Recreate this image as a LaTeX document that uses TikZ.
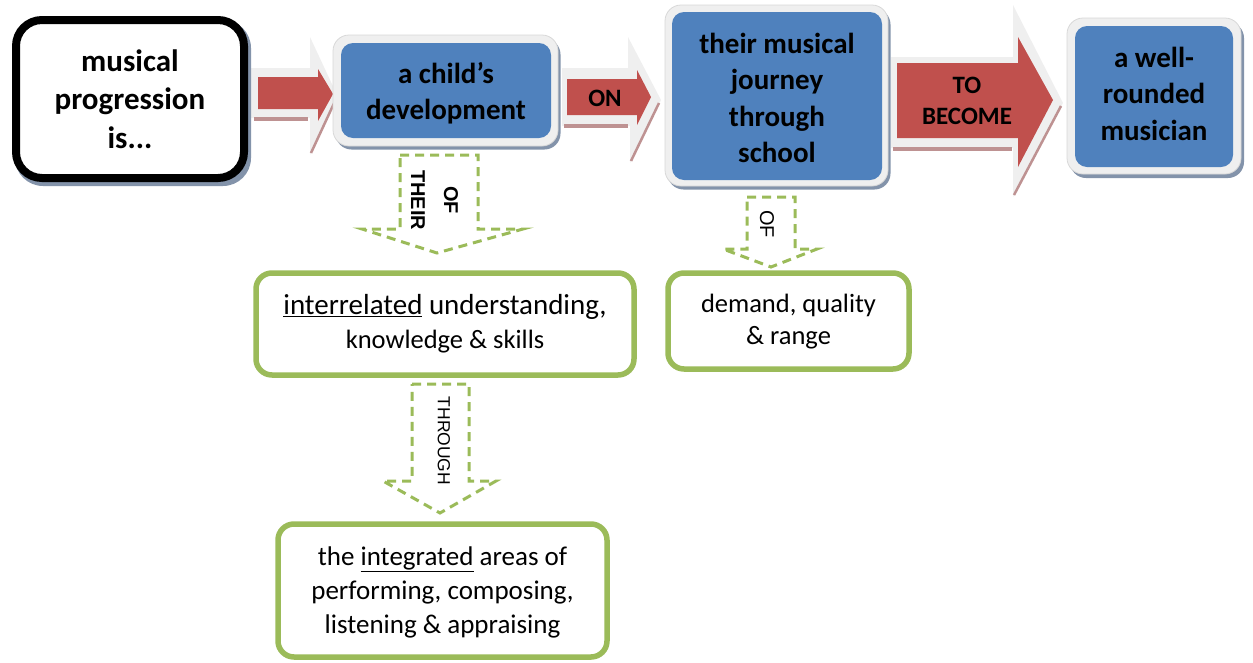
\documentclass[tikz,border=0pt]{standalone}
\usepackage{fontspec}
\setmainfont{Carlito}
\newfontfamily\arialf{Liberation Sans}
\definecolor{blueA}{HTML}{4F81BD}
\definecolor{redA}{HTML}{C0504D}
\definecolor{greenA}{HTML}{9BBB59}
\definecolor{glowC}{HTML}{EFEFEF}
\definecolor{frameC}{HTML}{D8D8D8}
\definecolor{shadowC}{HTML}{8393AA}
\definecolor{redshadow}{HTML}{BE9292}
\tikzset{
  bluetxt/.style={font=\fontsize{29}{36.5}\selectfont\bfseries, align=center, text=black},
  frame/.style={rectangle, rounded corners=16pt, fill=glowC, draw=frameC, line width=0.8pt, inner sep=0pt},
  bluebox/.style={rectangle, rounded corners=12pt, fill=blueA, inner sep=0pt},
  shadowbox/.style={rectangle, rounded corners=16pt, fill=shadowC, inner sep=0pt},
  greenbox/.style={rectangle, rounded corners=16pt, draw=greenA, line width=5.5pt, fill=white, inner sep=0pt, align=center},
  greentxt/.style={font=\fontsize{27}{34}\selectfont},
  redarrow/.style={fill=redA},
  glowarrow/.style={fill=glowC},
  redshad/.style={draw=redshadow, line width=4pt},
  dasharrow/.style={draw=greenA, line width=3pt, dash pattern=on 9pt off 6pt, line join=miter},
  arrowlbl/.style={font=\fontsize{25}{31}\selectfont\bfseries, align=center},
  dashlbl/.style={rotate=-90, inner sep=0pt},
}
\begin{document}
\begin{tikzpicture}[x=1pt,y=-1pt]
\useasboundingbox (0,0) rectangle (1253,662);

% ---- red block arrows (glow, shadow, body) ----
% arrow 1
\fill[glowarrow] (250,68) -- (310,68) -- (310,37) -- (338,97) -- (310,155) -- (310,118) -- (250,118) -- cycle;
\draw[redshad] (254,119) -- (308,119);
\draw[redshad,line width=2.5pt] (311,153) -- (336,99);
\fill[redarrow] (258,77) -- (318,77) -- (318,69) -- (333,94) -- (318,121) -- (318,109) -- (258,109) -- cycle;
% arrow 2
\fill[glowarrow] (562,68) -- (628,68) -- (628,37) -- (661,100) -- (630,163) -- (630,126) -- (562,126) -- cycle;
\draw[redshad] (564,126) -- (628,126);
\draw[redshad,line width=2.5pt] (631,161) -- (659,103);
\fill[redarrow] (567,79) -- (637,79) -- (637,70) -- (651,97) -- (637,125) -- (637,115) -- (567,115) -- cycle;
\node[arrowlbl] (lblon) at (605,98) {ON};
% arrow 3
\fill[glowarrow] (891,57) -- (1013,57) -- (1013,5) -- (1063,103) -- (1013,197) -- (1013,148) -- (891,148) -- cycle;
\draw[redshad] (893,149) -- (1012,149);
\draw[redshad,line width=2.5pt] (1014,195) -- (1061,106);
\fill[redarrow] (897,63) -- (1018,63) -- (1018,37) -- (1053,100) -- (1018,167) -- (1018,138) -- (897,138) -- cycle;
\node[arrowlbl] (lblbecome) at (967,101) {TO\\BECOME};

% ---- box 1 ----
\node[rectangle, rounded corners=28pt, fill=shadowC, minimum width=236pt, minimum height=166pt, inner sep=0pt] (s1) at (133,103) {};
\node[rectangle, rounded corners=26pt, draw=black, line width=8pt, fill=white, minimum width=228pt, minimum height=158pt, inner sep=0pt, align=center, font=\fontsize{31}{38.5}\selectfont\bfseries] (b1) at (130,99) {musical\\progression\\is...};

% ---- box 2 ----
\node[shadowbox, minimum width=225pt, minimum height=111pt] (s2) at (448,94) {};
\node[frame, minimum width=225pt, minimum height=111pt] (f2) at (445.5,90.5) {};
\node[bluebox, minimum width=210pt, minimum height=95pt] (b2) at (446,90.5) {};
\node[bluetxt] (t2) at (446,93) {a child’s\\development};

% ---- box 3 ----
\node[shadowbox, minimum width=223pt, minimum height=181pt] (s3) at (779,99) {};
\node[frame, minimum width=223pt, minimum height=181pt] (f3) at (776.5,95.5) {};
\node[bluebox, minimum width=210pt, minimum height=168pt] (b3) at (777,96) {};
\node[bluetxt] (t3) at (777,98) {their musical\\journey\\through\\school};

% ---- box 4 ----
\node[shadowbox, minimum width=174pt, minimum height=156pt] (s4) at (1157,100) {};
\node[frame, minimum width=174pt, minimum height=156pt] (f4) at (1154,96) {};
\node[bluebox, minimum width=158pt, minimum height=141pt] (b4) at (1154,96.5) {};
\node[bluetxt] (t4) at (1154,93.5) {a well-\\rounded\\musician};

% ---- green boxes ----
\node[greenbox, minimum width=378pt, minimum height=102pt] (ga) at (445,324) {};
\node[font=\fontsize{29}{35}\selectfont, inner sep=0pt] (ga1) at (445,307) {\underline{interrelated} understanding,};
\node[font=\fontsize{26.5}{34}\selectfont, inner sep=0pt] (ga2) at (445,342) {knowledge \& skills};
\node[greenbox, font=\fontsize{26.5}{32}\selectfont, minimum width=241pt, minimum height=96pt] (gb) at (788.5,321) {};
\node[font=\fontsize{26.5}{32}\selectfont, align=center] (gbt) at (788.5,322) {demand, quality\\\& range};
\node[greenbox, minimum width=329pt, minimum height=133pt] (gc) at (442.5,590.5) {};
\node[greentxt, align=center] (gct) at (442.5,592) {the \underline{integrated} areas of\\performing, composing,\\listening \& appraising};

% ---- dashed arrows ----
\draw[dasharrow] (400,155) -- (478,155) -- (478,229) -- (523,229) -- (437,253) -- (362,229) -- (400,229) -- cycle;
\node[dashlbl, font=\arialf\fontsize{20}{24}\selectfont\bfseries] (lof) at (451,200) {OF};
\node[dashlbl, font=\arialf\fontsize{20}{24}\selectfont\bfseries] (ltheir) at (418,200) {THEIR};
\draw[dasharrow] (747,197) -- (795,197) -- (795,249) -- (817,249) -- (771,267) -- (723,249) -- (747,249) -- cycle;
\node[dashlbl, font=\arialf\fontsize{20}{24}\selectfont] (lof2) at (767,224) {OF};
\draw[dasharrow] (412,384) -- (469,384) -- (469,481) -- (496,481) -- (440,513) -- (383,481) -- (412,481) -- cycle;
\node[dashlbl, font=\arialf\fontsize{17.5}{22}\selectfont] (lthr) at (444,441) {THROUGH};
\end{tikzpicture}
\end{document}
